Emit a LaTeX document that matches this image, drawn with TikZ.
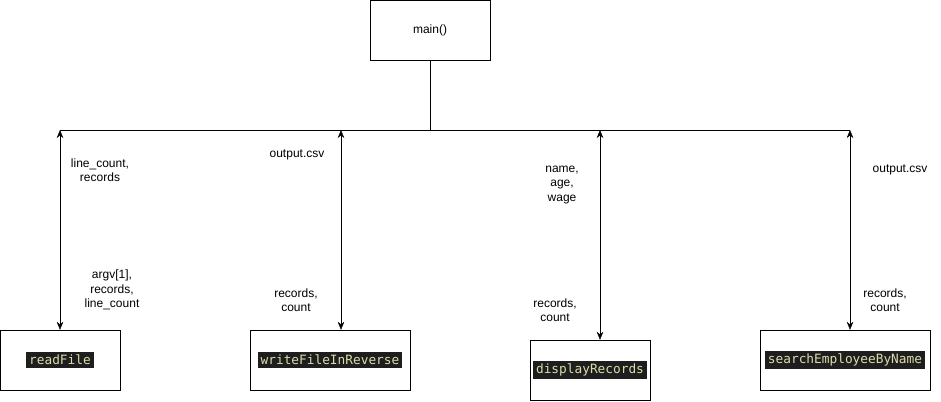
\documentclass[tikz,border=0pt]{standalone}
\usepackage{fontspec}
\setmainfont{Liberation Sans}
\newfontfamily\codefont{DejaVu Sans Mono}
\usetikzlibrary{arrows.meta}
\usepackage{xcolor}
\definecolor{codebg}{HTML}{1E1E1E}
\definecolor{codefg}{HTML}{DCDCAA}
\newcommand{\fname}[1]{{\setlength{\fboxsep}{3pt}\colorbox{codebg}{\textcolor{codefg}{\codefont\fontsize{12.8}{15}\selectfont #1}}}}

\begin{document}
\begin{tikzpicture}[x=1pt,y=-1pt,
  box/.style={draw, minimum height=60pt, inner sep=0pt},
  lbl/.style={align=center, font=\fontsize{12}{14.5}\selectfont},
  flow/.style={{Stealth[length=8pt,width=6.5pt]}-{Stealth[length=8pt,width=6.5pt]}}]

\useasboundingbox (0,0) rectangle (941,401);

% boxes
\node[box, minimum width=120pt, font=\fontsize{12}{14}\selectfont] (main) at (430,30) {main()};
\node[box, minimum width=120pt] (readFile) at (60,360) {\fname{readFile}};
\node[box, minimum width=160pt] (writeFile) at (330,360) {\fname{writeFileInReverse}};
\node[box, minimum width=120pt] (display) at (590,370) {\fname{displayRecords}};
\node[box, minimum width=170pt] (search) at (845,360) {\fname{searchEmployeeByName}};

% bus
\coordinate (busL) at (60,130);
\coordinate (busR) at (850,130);
\draw (main.south) -- (main.south |- busL);
\draw (busL) -- (busR);

\foreach \n/\x in {readFile/60, writeFile/341, display/600, search/850}
{
  \coordinate (top-\n) at (\x,130);
  \draw[flow] (top-\n) -- (top-\n |- \n.north);
}

% labels
\node[lbl] (upRead) at (100,170) {line\_count,\\records};
\node[lbl] (downRead) at (112,290) {argv[1],\\records,\\line\_count};
\node[lbl] (upWrite) at (297,155) {output.csv};
\node[lbl] (downWrite) at (296,300) {records,\\count};
\node[lbl] (upDisplay) at (562,185) {name,\\age,\\wage};
\node[lbl] (downDisplay) at (555,310) {records,\\count};
\node[lbl] (upSearch) at (900,170) {output.csv};
\node[lbl] (downSearch) at (885,300) {records,\\count};

\end{tikzpicture}
\end{document}
